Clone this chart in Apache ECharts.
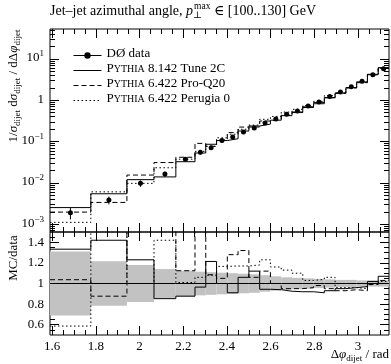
<!DOCTYPE html>
<html><head><meta charset="utf-8">
<script src="https://cdn.jsdelivr.net/npm/echarts@6/dist/echarts.min.js"></script>
<style>html,body{margin:0;padding:0;background:#fff}#c{width:391px;height:364px}</style>
</head><body><div id="c"></div><script>
// ---- data ----
const binEdges = [1.59, 1.777, 1.942, 2.066, 2.166, 2.2536, 2.3029, 2.3523, 2.4016, 2.4509, 2.5003, 2.5496, 2.5989, 2.6483, 2.6976, 2.7469, 2.7963, 2.8456, 2.8949, 2.9443, 2.9936, 3.0429, 3.0923, 3.1416];
const dataVals = [0.00190, 0.00385, 0.00976, 0.0164, 0.0372, 0.0549, 0.0710, 0.106, 0.129, 0.170, 0.213, 0.281, 0.351, 0.459, 0.548, 0.725, 0.906, 1.23, 1.58, 2.11, 2.87, 4.17, 5.76];
const dataErrs = [0.000589, 0.000828, 0.001757, 0.002296, 0.00465, 0.006314, 0.00781, 0.01113, 0.0129, 0.01615, 0.01917, 0.02248, 0.02457, 0.02754, 0.03014, 0.03625, 0.04077, 0.0492, 0.0553, 0.07385, 0.0861, 0.1251, 0.1728];
const mcTune2C = [0.002533, 0.005467, 0.012005, 0.013989, 0.032624, 0.052979, 0.086194, 0.106, 0.11739, 0.1802, 0.23856, 0.26526, 0.32994, 0.42458, 0.50416, 0.667, 0.82446, 1.1439, 1.501, 2.0256, 2.7839, 4.2534, 6.1632];
const mcProQ20 = [0.00197, 0.003376, 0.015518, 0.03116, 0.041813, 0.090585, 0.077035, 0.1113, 0.16512, 0.2244, 0.22578, 0.31472, 0.351, 0.43605, 0.5206, 0.696, 0.88788, 1.1685, 1.4694, 1.9834, 2.6691, 4.1283, 5.9328];
const mcPerugia0 = [0.001115, 0.006083, 0.00976, 0.023288, 0.037572, 0.058194, 0.07668, 0.1236, 0.15093, 0.1989, 0.25134, 0.34563, 0.40716, 0.51867, 0.6028, 0.74675, 0.94224, 1.3038, 1.5168, 2.0256, 2.7265, 4.17, 5.8752];
const seriesNames = ['DØ data', 'PYTHIA 8.142 Tune 2C', 'PYTHIA 6.422 Pro-Q20', 'PYTHIA 6.422 Perugia 0'];
// ---- ticks ----
const xMajorTicks = [1.6, 1.8, 2.0, 2.2, 2.4, 2.6, 2.8, 3.0];
const xMinorTicks = [1.65, 1.7, 1.75, 1.85, 1.9, 1.95, 2.05, 2.1, 2.15, 2.25, 2.3, 2.35, 2.45, 2.5, 2.55, 2.65, 2.7, 2.75, 2.85, 2.9, 2.95, 3.05, 3.1];
const yUpperMajor = [0.001, 0.01, 0.1, 1, 10];
const yUpperMinor = [0.0007, 0.0008, 0.0009, 0.002, 0.003, 0.004, 0.005, 0.006, 0.007, 0.008, 0.009, 0.02, 0.03, 0.04, 0.05, 0.06, 0.07, 0.08, 0.09, 0.2, 0.3, 0.4, 0.5, 0.6, 0.7, 0.8, 0.9, 2, 3, 4, 5, 6, 7, 8, 9, 20, 30, 40, 50];
const yLowerMajor = [0.6, 0.8, 1.0, 1.2, 1.4];
const yLowerMinor = [0.55, 0.65, 0.7, 0.75, 0.85, 0.9, 0.95, 1.05, 1.1, 1.15, 1.25, 1.3, 1.35, 1.45];
const xRange = [1.59, 3.1416], yUpperRange = [0.00065, 53], yLowerRange = [0.5, 1.5];

const FF = "'Liberation Serif', 'DejaVu Serif', serif";
const chart = echarts.init(document.getElementById('c'), null, {renderer: 'canvas'});

const nb = dataVals.length;
const stepData = vals => binEdges.map((e, i) => [e, vals[Math.min(i, nb - 1)]]);
const centers = dataVals.map((v, i) => (binEdges[i] + binEdges[i + 1]) / 2);
const ratio = mc => mc.map((v, i) => v / dataVals[i]);

function xAx(grid, pos, ticks, len, labels) {
  return {type: 'value', gridIndex: grid, position: pos, min: xRange[0], max: xRange[1],
    axisLine: {show: false}, splitLine: {show: false},
    axisTick: {show: true, inside: true, length: len, customValues: ticks, lineStyle: {color: '#000', width: 1}},
    axisLabel: labels ? {show: true, customValues: xMajorTicks, margin: 5, color: '#000', fontFamily: FF, fontSize: 13} : {show: false}};
}
function yAx(grid, pos, type, range, ticks, len, label) {
  return {type: type, gridIndex: grid, position: pos, min: range[0], max: range[1],
    axisLine: {show: false}, splitLine: {show: false},
    axisTick: {show: true, inside: true, length: len, customValues: ticks, lineStyle: {color: '#000', width: 1}},
    axisLabel: label || {show: false}};
}
const richBase = {
  n: {fontFamily: FF, fontSize: 13, lineHeight: 15, verticalAlign: 'bottom', padding: [0, 0, 2, 0], color: '#000'},
  i: {fontFamily: FF, fontSize: 13, fontStyle: 'italic', lineHeight: 15, verticalAlign: 'bottom', padding: [0, 0, 2, 0], color: '#000'},
  sup: {fontFamily: FF, fontSize: 9, lineHeight: 10, verticalAlign: 'bottom', padding: [0, 0, 8, 0], color: '#000'},
  sub: {fontFamily: FF, fontSize: 9, lineHeight: 10, verticalAlign: 'bottom', padding: [0, 0, 0, 0], color: '#000'}
};
const richTitle = {
  n: {fontFamily: FF, fontSize: 14, lineHeight: 16, verticalAlign: 'bottom', padding: [0, 0, 2, 0], color: '#000'},
  i: {fontFamily: FF, fontSize: 14, fontStyle: 'italic', lineHeight: 16, verticalAlign: 'bottom', padding: [0, 0, 2, 0], color: '#000'},
  sup: {fontFamily: FF, fontSize: 9.5, lineHeight: 10, verticalAlign: 'bottom', padding: [0, 0, 9, 0], color: '#000'},
  subz: {fontFamily: FF, fontSize: 9.5, lineHeight: 10, verticalAlign: 'bottom', padding: [0, 0, 0, 0], width: 1, color: '#000'}
};
const richLegend = {
  n: {fontFamily: FF, fontSize: 13, lineHeight: 13, verticalAlign: 'bottom', padding: [0, 0, 2, 0], color: '#000'},
  s: {fontFamily: FF, fontSize: 10, lineHeight: 10, verticalAlign: 'bottom', padding: [0, 0, 3, 0], color: '#000'}
};
const upperLabel = {show: true, customValues: yUpperMajor, margin: 6, color: '#000', fontFamily: FF, fontSize: 13,
  formatter: v => { const e = Math.round(Math.log10(v)); return e === 0 ? '{n|1}' : '{n|10}{sup|' + (e < 0 ? '\u2212' + (-e) : e) + '}'; },
  rich: richBase};
const lowerLabel = {show: true, customValues: yLowerMajor, margin: 6, color: '#000', fontFamily: FF, fontSize: 13};

const lineS = (name, data, type, xi, yi) => ({name: name, type: 'line', xAxisIndex: xi, yAxisIndex: yi, data: data,
  step: 'end', symbol: 'none', z: 4, lineStyle: {color: '#000', width: 1, type: type}, itemStyle: {color: '#000'}, silent: true});

const option = {
  animation: false,
  backgroundColor: '#fff',
  title: {left: 50, top: 4, padding: 0, text: '{n|Jet\u2013jet azimuthal angle, }{i|p}{subz|\u22a5}{sup|max}{n| \u2208 [100..130] GeV}',
    textStyle: {rich: richTitle, fontFamily: FF, fontSize: 14, fontWeight: 'normal', color: '#000'}},
  grid: [
    {left: 50, right: 2, top: 29, height: 203, show: true, borderColor: '#000', borderWidth: 1, backgroundColor: 'transparent'},
    {left: 50, right: 2, top: 232, height: 103, show: true, borderColor: '#000', borderWidth: 1, backgroundColor: 'transparent'}
  ],
  xAxis: [
    xAx(0, 'bottom', xMajorTicks, 9, false), xAx(0, 'bottom', xMinorTicks, 5, false),
    xAx(0, 'top', xMajorTicks, 9, false), xAx(0, 'top', xMinorTicks, 5, false),
    xAx(1, 'bottom', xMajorTicks, 9, true), xAx(1, 'bottom', xMinorTicks, 5, false),
    xAx(1, 'top', xMajorTicks, 9, false), xAx(1, 'top', xMinorTicks, 5, false)
  ],
  yAxis: [
    yAx(0, 'left', 'log', yUpperRange, yUpperMajor, 9, upperLabel), yAx(0, 'left', 'log', yUpperRange, yUpperMinor, 5),
    yAx(0, 'right', 'log', yUpperRange, yUpperMajor, 9), yAx(0, 'right', 'log', yUpperRange, yUpperMinor, 5),
    yAx(1, 'left', 'value', yLowerRange, yLowerMajor, 9, lowerLabel), yAx(1, 'left', 'value', yLowerRange, yLowerMinor, 5),
    yAx(1, 'right', 'value', yLowerRange, yLowerMajor, 9), yAx(1, 'right', 'value', yLowerRange, yLowerMinor, 5)
  ],
  legend: {left: 73, top: 47, padding: 0, orient: 'vertical', itemWidth: 28, itemHeight: 8, itemGap: 0,
    lineStyle: {width: 1},
    data: [{name: seriesNames[0], lineStyle: {width: 1, opacity: 1, color: '#000'}},
      {name: seriesNames[1], itemStyle: {opacity: 0}}, {name: seriesNames[2], itemStyle: {opacity: 0}}, {name: seriesNames[3], itemStyle: {opacity: 0}}],
    formatter: n => n.indexOf('PYTHIA') === 0 ? '{n|P}{s|YTHIA}{n|' + n.slice(6) + '}' : '{n|' + n + '}',
    textStyle: {fontFamily: FF, fontSize: 13, color: '#000', rich: richLegend}, selectedMode: false},
  graphic: [
    {type: 'text', x: 15, y: 86, rotation: Math.PI / 2, style: {text: '{n|1/}{i|\u03c3}{sub|dijet}{n| d}{i|\u03c3}{sub|dijet}{n| / d\u0394}{i|\u03c6}{sub|dijet}', rich: richBase, align: 'center', verticalAlign: 'middle'}},
    {type: 'text', x: 14, y: 258, rotation: Math.PI / 2, style: {text: 'MC/data', fontFamily: FF, fontSize: 13, fill: '#000', align: 'center', verticalAlign: 'middle'}},
    {type: 'text', right: 2, bottom: 1, style: {text: '{n|\u0394}{i|\u03c6}{sub|dijet}{n| / rad}', rich: richBase}}
  ],
  series: [
    {name: seriesNames[0], type: 'line', xAxisIndex: 0, yAxisIndex: 0, data: centers.map((c, i) => [c, dataVals[i]]),
      symbol: 'circle', symbolSize: 5, z: 6, itemStyle: {color: '#000'}, lineStyle: {width: 1, opacity: 0, color: '#000'}, silent: true},
    {type: 'custom', xAxisIndex: 0, yAxisIndex: 0, z: 6, silent: true,
      data: centers.map((c, i) => [c, dataVals[i] - dataErrs[i], dataVals[i] + dataErrs[i]]),
      encode: {x: 0, y: [1, 2]},
      renderItem: (p, api) => { const a = api.coord([api.value(0), api.value(1)]); const b = api.coord([api.value(0), api.value(2)]);
        return {type: 'line', shape: {x1: a[0], y1: a[1], x2: b[0], y2: b[1]}, style: {stroke: '#000', lineWidth: 1}}; }},
    lineS(seriesNames[1], stepData(mcTune2C), 'solid', 0, 0),
    lineS(seriesNames[2], stepData(mcProQ20), [5, 3], 0, 0),
    lineS(seriesNames[3], stepData(mcPerugia0), [1.5, 2.5], 0, 0),
    // ratio panel
    {type: 'custom', xAxisIndex: 4, yAxisIndex: 4, z: 1, silent: true,
      data: dataVals.map((v, i) => [binEdges[i], binEdges[i + 1], 1 + dataErrs[i] / v, 1 - dataErrs[i] / v]),
      encode: {x: [0, 1], y: [2, 3]},
      renderItem: (p, api) => { const a = api.coord([api.value(0), api.value(2)]); const b = api.coord([api.value(1), api.value(3)]);
        return {type: 'rect', shape: {x: a[0], y: a[1], width: b[0] - a[0], height: b[1] - a[1]}, style: {fill: '#c2c2c2'}}; }},
    lineS('ratio-data', stepData(ratio(dataVals)), 'solid', 4, 4),
    lineS('ratio-2C', stepData(ratio(mcTune2C)), 'solid', 4, 4),
    lineS('ratio-Q20', stepData(ratio(mcProQ20)), [5, 3], 4, 4),
    lineS('ratio-P0', stepData(ratio(mcPerugia0)), [1.5, 2.5], 4, 4)
  ]
};
chart.setOption(option);
</script></body></html>
